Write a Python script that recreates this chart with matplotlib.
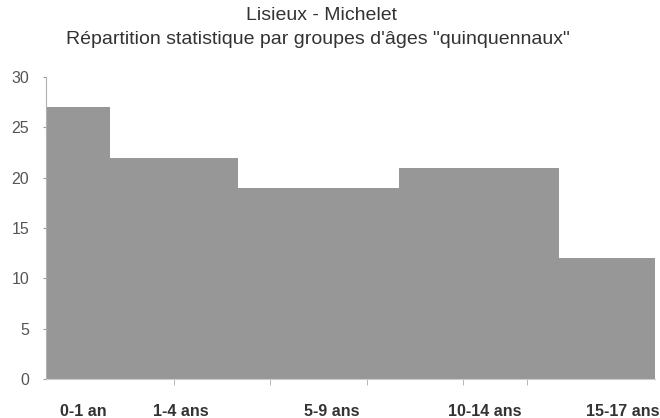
import matplotlib.pyplot as plt
import numpy as np

plt.rcParams['font.family'] = ['Liberation Sans', 'DejaVu Sans']

# age groups, bar edges in years, counts
groups = ['0-1 an', '1-4 ans', '5-9 ans', '10-14 ans', '15-17 ans']
edges = [0, 2, 6, 11, 16, 19]
counts = [27, 22, 19, 21, 12]
label_pos = [1.15, 4.2, 8.9, 13.7, 18.0]
mark_pos = [4, 7, 10, 13, 15, 18]

fig = plt.figure(figsize=(6.6, 4.18), dpi=100)
ax = fig.add_axes([46/660, 1 - 379/418, (655 - 46)/660, (379 - 77)/418])

left = np.array(edges[:-1])
widths = np.diff(edges)
ax.bar(left, counts, width=widths, align='edge', color='#979797', edgecolor='none')

ax.set_xlim(0, 19)
ax.set_ylim(0, 30)
ax.set_yticks(range(0, 31, 5))
ax.tick_params(axis='y', colors='#9a9a9a', labelcolor='#555555', labelsize=11.5,
               length=2, pad=10)
ax.set_xticks(label_pos)
ax.set_xticklabels(groups, fontsize=11.5, fontweight='bold', color='#333333')
ax.tick_params(axis='x', length=0, pad=18)
ax.set_xticks(mark_pos, minor=True)
ax.tick_params(axis='x', which='minor', length=4, color='#aaaaaa')

for s in ['top', 'right']:
    ax.spines[s].set_visible(False)
ax.spines['left'].set_color('#b0b0b0')
ax.spines['bottom'].set_color('#cccccc')

fig.text(0.487, 1 - 15/418, 'Lisieux - Michelet', ha='center', va='center',
         fontsize=14, color='#333333')
fig.text(0.482, 1 - 39/418, 'Répartition statistique par groupes d\'âges "quinquennaux"',
         ha='center', va='center', fontsize=14, color='#333333')

fig.savefig('out.png', dpi=100)
